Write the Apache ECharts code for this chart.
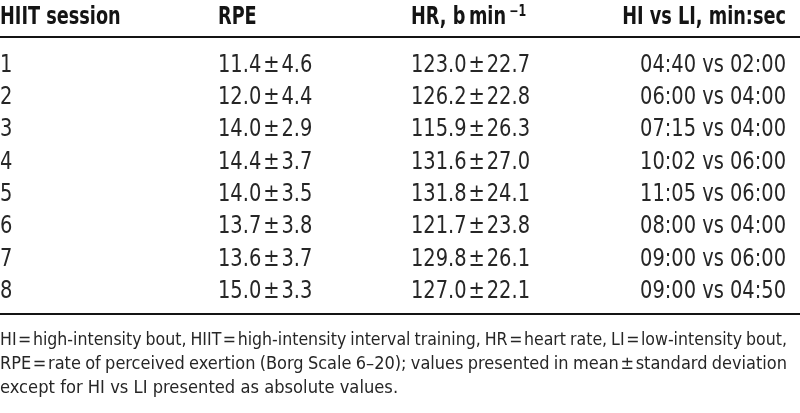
<!DOCTYPE html>
<html><head><meta charset="utf-8">
<script src="https://cdn.jsdelivr.net/npm/echarts@6/dist/echarts.min.js"></script>
<style>html,body{margin:0;padding:0;background:#fff}#c{width:800px;height:413px}</style>
</head><body><div id="c"></div>
<script>
// ---- data ----
const sessions = ['1','2','3','4','5','6','7','8'];
const rpeMean = ['11.4','12.0','14.0','14.4','14.0','13.7','13.6','15.0'];
const rpeSd   = ['4.6','4.4','2.9','3.7','3.5','3.8','3.7','3.3'];
const hrMean  = ['123.0','126.2','115.9','131.6','131.8','121.7','129.8','127.0'];
const hrSd    = ['22.7','22.8','26.3','27.0','24.1','23.8','26.1','22.1'];
const hiTime  = ['04:40','06:00','07:15','10:02','11:05','08:00','09:00','09:00'];
const liTime  = ['02:00','04:00','04:00','06:00','06:00','04:00','06:00','04:50'];
const headers = ['HIIT session','RPE','HR, b\u2009min','HI vs LI, min:sec'];
const hrHeaderSup = '\u22121';
const footnoteLines = [
  'HI\u200a=\u200ahigh-intensity bout, HIIT\u200a=\u200ahigh-intensity interval training, HR\u200a=\u200aheart rate, LI\u200a=\u200alow-intensity bout,',
  'RPE\u200a=\u200arate of perceived exertion (Borg Scale 6\u201320); values presented in mean\u200a\u00b1\u200astandard deviation',
  'except for HI vs LI presented as absolute values.'
];
const footnoteJustify = [true, true, false];

// ---- layout ----
const FONT = '"DejaVu Sans Condensed","DejaVu Sans",sans-serif';
const W = 800;
const colX = [0, 218, 411, 786];
const colAlign = ['left','left','left','right'];
const bodySize = 24, headSize = 24, noteSize = 18;
const bodyScaleX = 0.9, headScaleX = 0.82;
const textColor = '#262626';

const cellText = [
  i => sessions[i],
  i => rpeMean[i] + '\u200a\u00b1\u200a' + rpeSd[i],
  i => hrMean[i] + '\u200a\u00b1\u200a' + hrSd[i],
  i => hiTime[i] + ' vs ' + liTime[i]
];

const series = colX.map((x, c) => ({
  type: 'custom',
  silent: true,
  data: sessions.map((s, i) => [x, i]),
  renderItem: (params, api) => {
    const p = api.coord([api.value(0), api.value(1)]);
    return {
      type: 'text', x: p[0], y: p[1], scaleX: bodyScaleX, scaleY: 1,
      style: {
        text: cellText[c](params.dataIndex),
        font: bodySize + 'px ' + FONT,
        fill: textColor,
        align: colAlign[c], verticalAlign: 'middle'
      }
    };
  }
}));

// footnotes (first two lines justified)
const ctx = document.createElement('canvas').getContext('2d');
ctx.font = noteSize + 'px ' + FONT;
const noteY = [340, 364, 388];
const noteRight = 787;
const graphics = [];
footnoteLines.forEach((line, li) => {
  if (!footnoteJustify[li]) {
    graphics.push({type:'text', x: 0, y: noteY[li], scaleX: 1.01,
      style:{text: line, font: noteSize + 'px ' + FONT, fill: textColor, verticalAlign:'middle'}});
    return;
  }
  const words = line.split(' ');
  const raw = words.map(w => ctx.measureText(w).width);
  const rawTotal = raw.reduce((a,b)=>a+b,0);
  const minGap = 4;
  let sx = 1;
  if (rawTotal + minGap * (words.length - 1) > noteRight) {
    sx = (noteRight - minGap * (words.length - 1)) / rawTotal;
  }
  const widths = raw.map(w => w * sx);
  const total = rawTotal * sx;
  const gap = (noteRight - total) / (words.length - 1);
  let x = 0;
  words.forEach((w, k) => {
    graphics.push({type:'text', x: x, y: noteY[li], scaleX: sx,
      style:{text: w, font: noteSize + 'px ' + FONT, fill: textColor, verticalAlign:'middle'}});
    x += widths[k] + gap;
  });
});

// header
const headY = 18;
headers.forEach((h, c) => {
  const isHR = c === 2;
  graphics.push({
    type: 'text', x: colX[c], y: headY, scaleX: headScaleX,
    style: {
      text: isHR ? '{m|' + h + '}{s|' + hrHeaderSup + '}' : h,
      font: 'bold ' + headSize + 'px ' + FONT,
      fill: '#141414',
      align: colAlign[c],
      verticalAlign: 'middle',
      rich: isHR ? {
        m: {fontFamily: FONT, fontWeight: 'bold', fontSize: headSize, fill: '#141414'},
        s: {fontFamily: FONT, fontWeight: 'bold', fontSize: 15, fill: '#141414', padding: [0,0,12,4]}
      } : undefined
    }
  });
});

// rules
[37, 314].forEach(y => graphics.push({type:'line', shape:{x1:0,y1:y,x2:W,y2:y}, style:{stroke:'#141414', lineWidth:2}}));

const chart = echarts.init(document.getElementById('c'), null, {renderer:'canvas'});
chart.setOption({
  animation: false,
  backgroundColor: '#fff',
  grid: {left: 0, right: 0, top: 49.5, height: 258.3, containLabel: false},
  xAxis: {type:'value', min:0, max:W, show:false},
  yAxis: {type:'category', data: sessions, inverse:true, show:false},
  series: series,
  graphic: graphics
});
</script></body></html>
